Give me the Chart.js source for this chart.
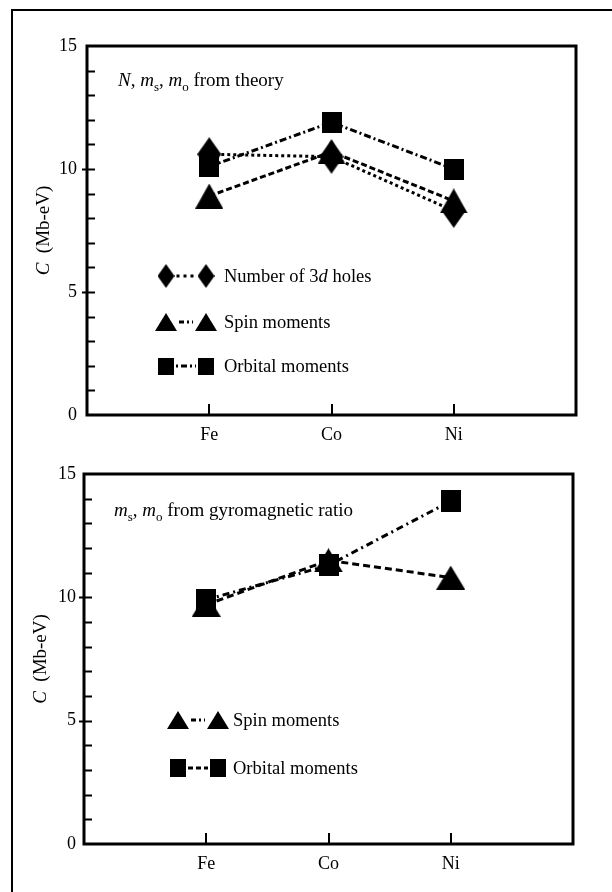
<!DOCTYPE html>
<html><head><meta charset="utf-8">
<script src="https://cdn.jsdelivr.net/npm/chart.js@4/dist/chart.umd.min.js"></script>
<style>
html,body{margin:0;padding:0;background:#fff;width:612px;height:892px;overflow:hidden}
#frame{position:absolute;left:11px;top:9px;width:640px;height:900px;border-left:2px solid #000;border-top:2px solid #000}
.c{position:absolute;left:0;width:612px;height:446px}
</style></head><body>
<div id="frame"></div>
<div class="c" style="top:0"><canvas id="top" width="612" height="446"></canvas></div>
<div class="c" style="top:446px"><canvas id="bot" width="612" height="446"></canvas></div>
<script>
// ---- data ----
const categories = ['Fe', 'Co', 'Ni'];
const yMajorTicks = [0, 5, 10, 15];
const theoryHoles = [10.6, 10.5, 8.3];
const theorySpin = [8.9, 10.7, 8.7];
const theoryOrbital = [10.1, 11.9, 10.0];
const gyroSpin = [9.7, 11.5, 10.8];
const gyroOrbital = [9.9, 11.3, 13.9];
const labelHoles = 'Number of 3d holes';
const labelSpin = 'Spin moments';
const labelOrbital = 'Orbital moments';

const FAM = "'Liberation Serif', 'Times New Roman', serif";

function mk(w, h, draw) {
  const c = document.createElement('canvas');
  c.width = w; c.height = h;
  const g = c.getContext('2d');
  g.fillStyle = '#000';
  g.beginPath(); draw(g, w, h); g.closePath(); g.fill();
  return c;
}
const diamond = (w, h) => mk(w, h, (g) => { g.moveTo(w/2, 0); g.lineTo(w, h/2); g.lineTo(w/2, h); g.lineTo(0, h/2); });
const triangle = (w, h) => mk(w, h, (g) => { g.moveTo(w/2, 0); g.lineTo(w, h); g.lineTo(0, h); });
const square = (w, h) => mk(w, h, (g) => { g.rect(0, 0, w, h); });

const pts = (vals) => vals.map((v, i) => ({ x: i + 1, y: v }));

function ds(label, vals, marker, legendMarker, dash) {
  return {
    label, data: pts(vals), borderColor: '#000', backgroundColor: '#000',
    borderWidth: 3, borderDash: dash, pointStyle: marker, legendMarker,
    pointRadius: 10, pointHoverRadius: 10, tension: 0, fill: false, clip: false
  };
}

function drawRuns(ctx, runs, x, y, size) {
  for (const r of runs) {
    const fs = r.sub ? Math.round(size * 0.7) : size;
    ctx.font = (r.it ? 'italic ' : '') + fs + 'px ' + FAM;
    ctx.fillText(r.t, x, y + (r.sub ? size * 0.28 : 0));
    x += ctx.measureText(r.t).width;
  }
  return x;
}
function runsWidth(ctx, runs, size) {
  let w = 0;
  for (const r of runs) {
    const fs = r.sub ? Math.round(size * 0.7) : size;
    ctx.font = (r.it ? 'italic ' : '') + fs + 'px ' + FAM;
    w += ctx.measureText(r.t).width;
  }
  return w;
}

const decor = {
  id: 'decor',
  beforeDatasetsDraw(chart, args, o) {
    const { ctx, chartArea: a, scales: { x, y } } = chart;
    ctx.save();
    ctx.strokeStyle = '#000'; ctx.lineWidth = 3; ctx.setLineDash([]);
    ctx.strokeRect(a.left, a.top, a.right - a.left, a.bottom - a.top);
    ctx.lineWidth = 2;
    ctx.beginPath();
    for (let v = 1; v < 15; v++) {
      const py = Math.round(y.getPixelForValue(v)) + 0.5;
      const out = (v % 5 === 0) ? 5 : 0;
      ctx.moveTo(a.left - out, py); ctx.lineTo(a.left + 8, py);
    }
    categories.forEach((c, i) => {
      const px = Math.round(x.getPixelForValue(i + 1));
      ctx.moveTo(px, a.bottom); ctx.lineTo(px, a.bottom - 11);
    });
    ctx.stroke();
    // y axis title
    ctx.fillStyle = '#000'; ctx.textBaseline = 'alphabetic';
    const tr = [{ t: 'C', it: true }, { t: '  (Mb-eV)' }];
    const cy = (a.top + a.bottom) / 2;
    ctx.translate(o.titleX, cy); ctx.rotate(-Math.PI / 2);
    const tw = runsWidth(ctx, tr, 19);
    drawRuns(ctx, tr, -tw / 2, 6, 19);
    ctx.restore();
  },
  afterDatasetsDraw(chart, args, o) {
    const { ctx, chartArea: a } = chart;
    ctx.save();
    ctx.fillStyle = '#000'; ctx.textBaseline = 'alphabetic';
    drawRuns(ctx, o.header, a.left + o.headerDX, a.top + o.headerDY, 19);
    chart.data.datasets.forEach((d, i) => {
      const row = o.legendRows[i];
      if (!row) return;
      const yy = a.top + row.dy;
      const m = d.legendMarker;
      const x1 = a.left + o.legendDX, x2 = x1 + o.legendGap;
      ctx.drawImage(m, x1 - m.width / 2, yy - m.height / 2);
      ctx.drawImage(m, x2 - m.width / 2, yy - m.height / 2);
      ctx.strokeStyle = '#000'; ctx.lineWidth = 3; ctx.setLineDash(row.dash);
      ctx.beginPath(); ctx.moveTo(x1 + m.width / 2 + 2, yy); ctx.lineTo(x2 - m.width / 2 - 2, yy); ctx.stroke();
      ctx.setLineDash([]);
      drawRuns(ctx, d.legendRuns, x2 + o.textDX, yy + 6, 18.5);
    });
    ctx.restore();
  }
};

function makeChart(id, datasets, padding, yWidth, xHeight, yPad, opts) {
  return new Chart(document.getElementById(id), {
    type: 'line',
    data: { datasets },
    options: {
      responsive: false, devicePixelRatio: 1, animation: false,
      layout: { padding },
      events: [],
      plugins: { legend: { display: false }, tooltip: { enabled: false }, decor: opts },
      scales: {
        x: {
          type: 'linear', min: 0, max: 4,
          grid: { display: false, drawTicks: false }, border: { display: false },
          ticks: { stepSize: 1, autoSkip: false, maxRotation: 0, padding: 9, color: '#000',
            font: { family: FAM, size: 18 },
            callback: (v) => categories[v - 1] || '' },
          afterFit: (s) => { s.height = xHeight; }
        },
        y: {
          min: 0, max: 15,
          grid: { display: false, drawTicks: false }, border: { display: false },
          ticks: { stepSize: 1, autoSkip: false, padding: yPad, color: '#000',
            font: { family: FAM, size: 18 },
            callback: (v) => yMajorTicks.includes(v) ? String(v) : '' },
          afterFit: (s) => { s.width = yWidth; }
        }
      }
    },
    plugins: [decor]
  });
}

// top chart
const dHoles = ds(labelHoles, theoryHoles, diamond(24, 34), diamond(17, 24), [3, 3]);
dHoles.legendRuns = [{ t: 'Number of 3' }, { t: 'd', it: true }, { t: ' holes' }];
const dSpinT = ds(labelSpin, theorySpin, triangle(28, 25), triangle(22, 18), [6, 3]);
dSpinT.legendRuns = [{ t: labelSpin }];
const dOrbT = ds(labelOrbital, theoryOrbital, square(20, 21), square(16, 17), [7, 3, 2, 3]);
dOrbT.legendRuns = [{ t: labelOrbital }];

makeChart('top', [dHoles, dSpinT, dOrbT], { top: 46, right: 36, left: 0, bottom: 0 }, 87, 31, 10, {
  titleX: 43,
  header: [{ t: 'N', it: true }, { t: ', ' }, { t: 'm', it: true }, { t: 's', sub: true }, { t: ', ' },
           { t: 'm', it: true }, { t: 'o', sub: true }, { t: ' from theory' }],
  headerDX: 31, headerDY: 40,
  legendDX: 79, legendGap: 40, textDX: 18,
  legendRows: [{ dy: 230, dash: [3, 4] }, { dy: 276, dash: [5, 3, 2, 3] }, { dy: 320, dash: [2, 3, 6, 3] }]
});

// bottom chart
const dSpinB = ds(labelSpin, gyroSpin, triangle(29, 24), triangle(22, 18), [7, 4]);
dSpinB.legendRuns = [{ t: labelSpin }];
const dOrbB = ds(labelOrbital, gyroOrbital, square(20, 22), square(16, 18), [7, 4, 2, 4]);
dOrbB.legendRuns = [{ t: labelOrbital }];

makeChart('bot', [dSpinB, dOrbB], { top: 28, right: 39, left: 0, bottom: 0 }, 84, 48, 8, {
  titleX: 40,
  header: [{ t: 'm', it: true }, { t: 's', sub: true }, { t: ', ' }, { t: 'm', it: true }, { t: 'o', sub: true },
           { t: ' from gyromagnetic ratio' }],
  headerDX: 30, headerDY: 42,
  legendDX: 94, legendGap: 40, textDX: 15,
  legendRows: [{ dy: 246, dash: [5, 3, 2, 3] }, { dy: 294, dash: [5, 3] }]
});
</script>
</body></html>
